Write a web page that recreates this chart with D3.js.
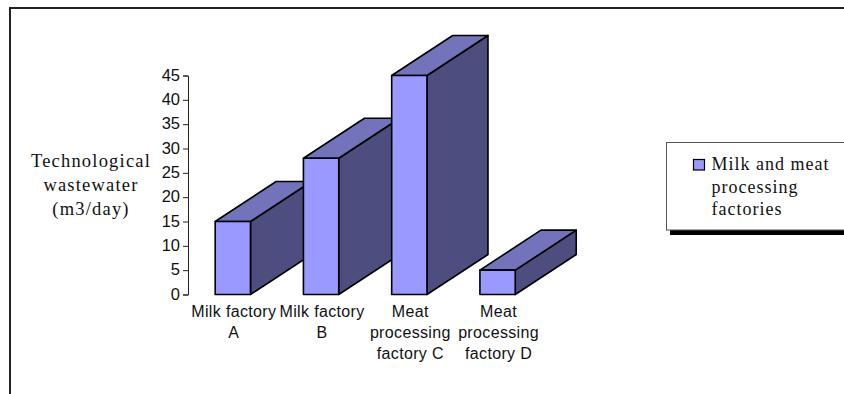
<!DOCTYPE html>
<html>
<head>
<meta charset="utf-8">
<script src="https://cdn.jsdelivr.net/npm/d3@7"></script>
<style>
  html, body { margin: 0; padding: 0; background: #fff; }
  svg { display: block; }
</style>
</head>
<body>
<svg id="chart" width="844" height="394"></svg>
<script>
const categories = [
  ["Milk factory", "A"],
  ["Milk factory", "B"],
  ["Meat", "processing", "factory C"],
  ["Meat", "processing", "factory D"]
];
const wastewater = [15, 28, 45, 5];
const yTicks = [0, 5, 10, 15, 20, 25, 30, 35, 40, 45];
const yTitle = ["Technological", "wastewater", "(m3/day)"];
const legendLines = ["Milk and meat", "processing", "factories"];

const svg = d3.select("#chart");
const sans = "'Liberation Sans', Arial, sans-serif";
const serif = "'Liberation Serif', 'Times New Roman', serif";

// Outer frame: open on the right and bottom edges of the page
svg.append("path")
  .attr("d", d3.line()([[844, 8], [10, 8], [10, 394]]))
  .attr("fill", "none").attr("stroke", "#222").attr("stroke-width", 2);

const x = d3.scaleBand()
  .domain(d3.range(categories.length))
  .range([188.7, 541.7])
  .paddingInner(0.6)
  .paddingOuter(0.3);
const y = d3.scaleLinear().domain([0, 45]).range([294.5, 75.5]);

// Oblique offset of the extruded bar depth
const depthX = 61, depthY = -40;

const bars = svg.append("g")
  .attr("stroke", "#000").attr("stroke-width", 1.6).attr("stroke-linejoin", "round");

const bar = bars.selectAll("g").data(wastewater).join("g");
const geom = (d, i) => ({ l: x(i), r: x(i) + x.bandwidth(), t: y(d), b: y(0) });

bar.append("path").attr("fill", "#4d4d7f").attr("d", (d, i) => {
  const g = geom(d, i);
  return d3.line()([[g.r, g.t], [g.r + depthX, g.t + depthY], [g.r + depthX, g.b + depthY], [g.r, g.b]]) + "Z";
});
bar.append("path").attr("fill", "#7373bb").attr("d", (d, i) => {
  const g = geom(d, i);
  return d3.line()([[g.l, g.t], [g.l + depthX, g.t + depthY], [g.r + depthX, g.t + depthY], [g.r, g.t]]) + "Z";
});
bar.append("rect").attr("fill", "#9999ff")
  .attr("x", (d, i) => geom(d, i).l)
  .attr("y", (d, i) => geom(d, i).t)
  .attr("width", x.bandwidth())
  .attr("height", (d, i) => geom(d, i).b - geom(d, i).t);

// Value axis
const yAxis = svg.append("g")
  .attr("transform", "translate(188,0)")
  .call(d3.axisLeft(y).tickValues(yTicks).tickSize(5).tickPadding(3));
yAxis.selectAll("path, line").attr("stroke", "#222").attr("stroke-width", 1);
yAxis.selectAll("text").attr("font-family", sans).attr("font-size", 16.5).attr("fill", "#111")
  .attr("dy", "0.28em");

// Multi-line category labels
const labels = svg.append("g")
  .attr("font-family", sans).attr("font-size", 16).attr("letter-spacing", 0.35)
  .attr("fill", "#111").attr("text-anchor", "middle");
labels.selectAll("text").data(categories).join("text")
  .attr("y", 317)
  .selectAll("tspan").data((d, i) => d.map(t => ({ t, i }))).join("tspan")
  .attr("x", d => x(d.i) + x.bandwidth() / 2 + 1)
  .attr("dy", (d, k) => k ? 21 : 0)
  .text(d => d.t);

// Axis title
svg.append("text")
  .attr("font-family", serif).attr("font-size", 18.5).attr("fill", "#111").attr("text-anchor", "middle")
  .attr("letter-spacing", 1.2)
  .selectAll("tspan").data(yTitle).join("tspan")
  .attr("x", 91).attr("y", (d, i) => 167 + i * 24).text(d => d);

// Legend box with heavy drop shadow
const legend = svg.append("g");
legend.append("rect").attr("x", 670).attr("y", 230).attr("width", 174).attr("height", 5).attr("fill", "#000");
legend.append("rect").attr("x", 666.5).attr("y", 142.5).attr("width", 178).attr("height", 87.5)
  .attr("fill", "#fff").attr("stroke", "#555").attr("stroke-width", 1);
legend.append("rect").attr("x", 693.5).attr("y", 159.5).attr("width", 11).attr("height", 10.5)
  .attr("fill", "#9999ff").attr("stroke", "#000").attr("stroke-width", 1.2);
legend.append("text")
  .attr("font-family", serif).attr("font-size", 18).attr("fill", "#111").attr("letter-spacing", 1)
  .selectAll("tspan").data(legendLines).join("tspan")
  .attr("x", 711.5).attr("y", (d, i) => [170, 192.5, 215][i]).text(d => d);
</script>
</body>
</html>
